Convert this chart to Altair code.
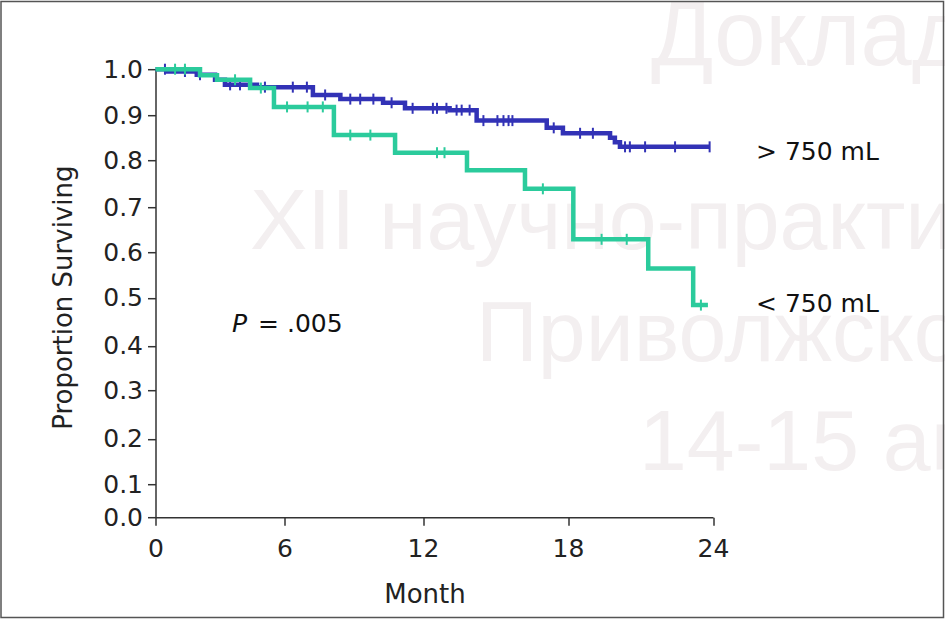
import altair as alt
import pandas as pd

# ---------------- data ----------------
# > 750 mL group: step times (months) and survival after each step
blue_time = [0, 0.58, 1.92, 2.77, 3.23, 4.72, 7.23, 8.42, 10.27, 11.22, 13.1, 14.22, 17.12, 17.79, 19.74, 19.94, 20.15, 23.86]
blue_surv = [1.0, 0.995, 0.988, 0.977, 0.966, 0.961, 0.944, 0.935, 0.927, 0.915, 0.911, 0.888, 0.872, 0.86, 0.85, 0.84, 0.83, 0.83]
blue_censor = [0.44, 1.37, 2.07, 3.47, 3.93, 5.09, 6.36, 6.97, 7.76, 8.85, 9.28, 9.85, 10.64, 11.55,
               12.41, 12.58, 12.97, 13.39, 13.6, 13.93, 14.5, 15.08, 15.33, 15.54, 15.7, 17.41, 18.5,
               19.03, 20.36, 20.56, 21.19, 22.43, 23.86]

# < 750 mL group
green_time = [0, 2.07, 2.86, 4.4, 5.51, 8.14, 10.79, 13.82, 16.22, 18.22, 21.32, 23.18, 23.79]
green_surv = [1.0, 0.987, 0.977, 0.959, 0.918, 0.856, 0.817, 0.779, 0.739, 0.629, 0.565, 0.485, 0.485]
green_censor = [0.91, 1.37, 3.7, 4.9, 6.11, 7.0, 7.66, 8.85, 9.72, 12.58, 12.89, 16.96, 19.39, 20.43, 23.5]

group_names = ["> 750 mL", "< 750 mL"]
label_month = [25.78, 25.78]
label_surv = [0.819, 0.487]

p_parts = ["P", "= .005"]
p_month = [3.56, 4.77]
p_surv = [0.446, 0.446]

x_ticks = [0, 6, 12, 18, 24]
y_ticks = [0.0, 0.1, 0.2, 0.3, 0.4, 0.5, 0.6, 0.7, 0.8, 0.9, 1.0]

watermark_lines = ["Доклад", "XII научно-практической", "Приволжского", "14-15 апреля"]

BLUE = "#3232b6"
GREEN = "#2bcb9c"
FONT = "DejaVu Sans"


def step_value(times, survs, t):
    v = survs[0]
    for tt, s in zip(times, survs):
        if tt <= t:
            v = s
    return v


blue_df = pd.DataFrame({"month": blue_time, "surv": blue_surv})
green_df = pd.DataFrame({"month": green_time, "surv": green_surv})
blue_c = pd.DataFrame({"month": blue_censor,
                       "surv": [step_value(blue_time, blue_surv, t) for t in blue_censor]})
green_c = pd.DataFrame({"month": green_censor,
                        "surv": [step_value(green_time, green_surv, t) for t in green_censor]})
labels_df = pd.DataFrame({"month": label_month, "surv": label_surv, "text": group_names})
p_italic_df = pd.DataFrame({"month": p_month[:1], "surv": p_surv[:1], "text": p_parts[:1]})
p_rest_df = pd.DataFrame({"month": p_month[1:], "surv": p_surv[1:], "text": p_parts[1:]})

# piecewise scales follow the reference's (slightly irregular) tick spacing
x_scale = alt.Scale(domain=x_ticks, range=[0, 129, 267.5, 412.5, 557.5], nice=False, zero=False)
y_scale = alt.Scale(domain=y_ticks,
                    range=[448, 415.1, 369.5, 321.2, 276.6, 228.7, 183.3, 137.8, 91.2, 46, 0],
                    nice=False, zero=False)

x_axis = alt.Axis(values=x_ticks, format="d", title="Month", grid=False,
                  domainColor="#333333", domainWidth=1.5, tickColor="#333333", tickWidth=1.5,
                  tickSize=8, labelFont=FONT, labelFontSize=25, labelColor="#222222",
                  labelPadding=11, labelFlush=False, labelOverlap=False,
                  titleFont=FONT, titleFontSize=26, titleFontWeight="normal",
                  titleColor="#222222", titleX=269, titleY=85, titleBaseline="alphabetic")
y_axis = alt.Axis(values=y_ticks, format=".1f", title="Proportion Surviving", grid=False,
                  domainColor="#333333", domainWidth=1.5, tickColor="#333333", tickWidth=1.5,
                  tickSize=8, labelFont=FONT, labelFontSize=25, labelColor="#222222",
                  labelPadding=5, labelOverlap=False, labelFlush=False,
                  titleFont=FONT, titleFontSize=26, titleFontWeight="normal",
                  titleColor="#222222", titleX=-84, titleY=228, titleAngle=270,
                  titleBaseline="alphabetic")

X = alt.X("month:Q", scale=x_scale, axis=x_axis)
Y = alt.Y("surv:Q", scale=y_scale, axis=y_axis)

# watermark (background) and frame, placed in pixels relative to the plot origin
wm_px = [495.5, 94.5, 320.5, 483.5]
wm_py = [-4.2, 179.8, 291.8, 400.8]
wm_size = [92, 86, 86, 86]
wm_layers = []
for txt, px, py, fs in zip(watermark_lines, wm_px, wm_py, wm_size):
    wm_layers.append(
        alt.Chart(pd.DataFrame({"text": [txt]})).mark_text(
            font="Liberation Sans", fontSize=fs, color="#f3eff0", align="left",
            baseline="alphabetic"
        ).encode(text="text:N", x=alt.value(px), y=alt.value(py))
    )

frame = alt.Chart(pd.DataFrame({"k": [0]})).mark_rect(
    fillOpacity=0, stroke="#555555", strokeWidth=1.5
).encode(x=alt.value(-154.5), x2=alt.value(788), y=alt.value(-67.7), y2=alt.value(548.3))

blue_line = alt.Chart(blue_df).mark_line(interpolate="step-after", strokeWidth=4.5,
                                         color=BLUE).encode(x=X, y=Y)
green_line = alt.Chart(green_df).mark_line(interpolate="step-after", strokeWidth=4.5,
                                           color=GREEN).encode(x=X, y=Y)
blue_ticks = alt.Chart(blue_c).mark_tick(orient="vertical", size=11, thickness=2,
                                         color=BLUE, opacity=1).encode(x=X, y=Y)
green_ticks = alt.Chart(green_c).mark_tick(orient="vertical", size=11, thickness=2,
                                           color=GREEN, opacity=1).encode(x=X, y=Y)

group_labels = alt.Chart(labels_df).mark_text(
    font=FONT, fontSize=25, color="#111111", align="left", baseline="middle"
).encode(x=X, y=Y, text="text:N")

p_italic = alt.Chart(p_italic_df).mark_text(
    font=FONT, fontSize=25, color="#111111", align="left", baseline="middle",
    fontStyle="italic"
).encode(x=X, y=Y, text="text:N")
p_rest = alt.Chart(p_rest_df).mark_text(
    font=FONT, fontSize=25, color="#111111", align="left", baseline="middle"
).encode(x=X, y=Y, text="text:N")

chart = alt.layer(
    *wm_layers, frame, blue_line, blue_ticks, green_line, green_ticks, group_labels,
    p_italic, p_rest
).properties(
    width=557.5, height=448,
    autosize=alt.AutoSizeParams(type="none"),
    padding={"left": 155.5, "top": 69.2, "right": 232, "bottom": 101.8},
    background="white",
).configure_view(stroke=None)

chart.save("out.html", embed_options={"renderer": "svg", "actions": False})
